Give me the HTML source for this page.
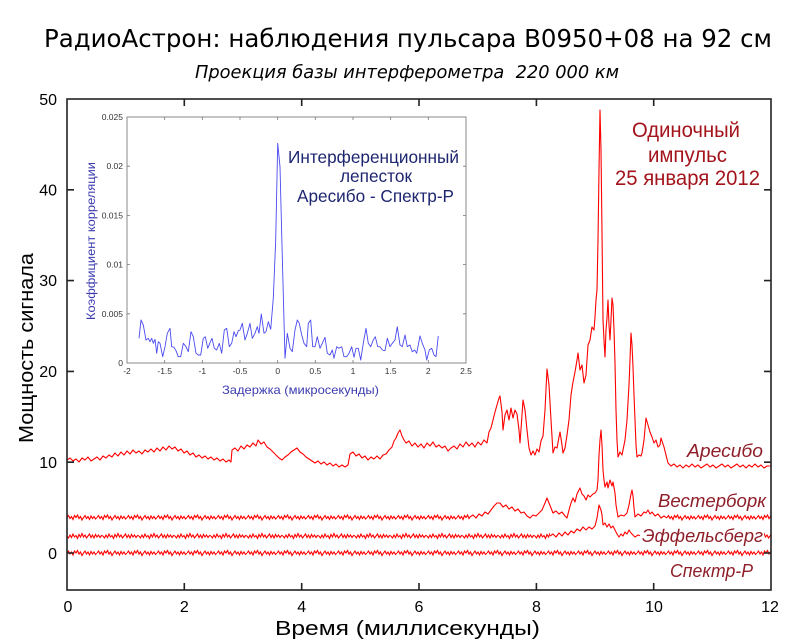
<!DOCTYPE html>
<html><head><meta charset="utf-8"><style>
html,body{margin:0;padding:0;background:#fff;}
svg{display:block;}
</style></head><body>
<svg width="800" height="640" viewBox="0 0 800 640" xmlns="http://www.w3.org/2000/svg">
<defs>
<pattern id="nz" patternUnits="userSpaceOnUse" width="30" height="10">
<polyline points="0,5 1.5,3 3,6 4.5,4 6,7 7.5,3 9,5 10.5,2.5 12,6 13.5,4 15,7.5 16.5,5 18,3 19.5,6 21,4 22.5,7 24,3.5 25.5,6 27,4 28.5,6.5 30,5" fill="none" stroke="#ff0000" stroke-width="1.1"/>
</pattern>
<pattern id="nz2" patternUnits="userSpaceOnUse" width="36" height="10">
<polyline points="0,5 1.5,7 3,4 4.5,6.5 6,3 7.5,6 9,4.5 10.5,7.5 12,3.5 13.5,6 15,2.5 16.5,6 18,4 19.5,7 21,5 22.5,3 24,6.5 25.5,4 27,7 28.5,3.5 30,6 31.5,4 33,6.5 34.5,4.5 36,5" fill="none" stroke="#ff0000" stroke-width="1.1"/>
</pattern>
</defs>
<rect x="0" y="0" width="800" height="640" fill="#fff"/>

<!-- Titles -->
<text x="44" y="47" font-family="DejaVu Sans, Liberation Sans, sans-serif" font-size="25" fill="#000" textLength="728" lengthAdjust="spacingAndGlyphs">РадиоАстрон: наблюдения пульсара B0950+08 на 92 см</text>
<text x="195" y="78" font-family="DejaVu Sans, Liberation Sans, sans-serif" font-style="italic" font-size="18" fill="#000" textLength="424" lengthAdjust="spacingAndGlyphs" xml:space="preserve">Проекция базы интерферометра  220 000 км</text>

<!-- Traces -->
<g fill="none" stroke="#ff0000" stroke-width="1.1" stroke-linejoin="round">
<!-- Аресибо -->
<path d="M67,460 L70,458 L73,461 L76,459 L79,462 L82,458 L85,460 L88,457 L91,461 L94,459 L97,457 L100,460 L103,456 L106,458 L109,455 L112,457 L115,453 L118,456 L121,452 L124,455 L127,451 L130,454 L133,450 L136,453 L139,451 L142,454 L145,450 L148,452 L151,449 L154,452 L157,448 L160,451 L163,447 L166,450 L169,446 L172,449 L175,447 L178,451 L181,449 L184,453 L187,451 L190,455 L193,453 L196,457 L199,455 L202,458 L205,456 L208,459 L211,457 L214,460 L217,458 L220,461 L223,459 L226,462 L229,460 L231,462 L232,450 L235,448 L238,451 L241,446 L244,449 L247,445 L250,447 L253,443 L256,446 L258,440 L261,444 L264,442 L267,447 L270,449 L273,452 L276,455 L279,458 L282,460 L285,457 L288,455 L291,452 L294,450 L297,448 L300,452 L303,454 L306,457 L309,459 L312,461 L315,463 L318,461 L321,464 L324,462 L327,465 L330,463 L333,466 L336,464 L339,467 L342,465 L345,467 L348,465 L350,454 L353,452 L356,456 L359,454 L362,458 L365,456 L368,460 L371,457 L374,459 L377,456 L380,459 L383,455 L386,454 L389,450 L392,447 L394,441 L396,438 L398,433 L400,430 L402,436 L404,440 L406,443 L409,441 L412,446 L415,443 L418,447 L421,444 L424,448 L427,443 L430,446 L433,442 L436,447 L439,445 L442,448 L445,446 L448,451 L451,448 L454,446 L457,449 L460,444 L463,447 L466,442 L469,446 L472,443 L475,447 L478,442 L481,445 L484,440 L487,443 L489,432 L491,428 L493,420 L495,412 L497,405 L499,398 L500,396 L502,412 L503,430 L505,415 L507,410 L509,420 L511,408 L513,418 L515,410 L517,414 L519,430 L520,443 L522,415 L523,400 L525,410 L527,430 L529,448 L531,455 L533,451 L535,455 L537,449 L539,452 L541,441 L543,436 L545,410 L547,369 L549,385 L551,420 L553,453 L555,447 L557,448 L559,437 L560,432 L562,445 L563,453 L565,448 L567,435 L569,420 L571,395 L573,382 L575,372 L577,360 L578,353 L580,370 L582,365 L584,383 L586,375 L588,345 L590,340 L592,327 L594,330 L595,317 L596,300 L597,290 L598,240 L599,170 L600,110 L601,150 L602,233 L603,320 L604,340 L605,357 L606,330 L607,318 L608,300 L609,325 L610,340 L611,320 L612,298 L613,305 L614,330 L615,363 L616,410 L617,440 L618,457 L620,452 L622,455 L623,450 L625,440 L627,420 L629,385 L630,360 L631,333 L632,345 L633,367 L634,395 L635,420 L636,445 L637,457 L639,455 L641,456 L642,453 L644,440 L646,418 L648,425 L650,432 L652,437 L654,443 L656,440 L658,447 L660,445 L661,438 L663,444 L664,447 L666,455 L668,463 L671,466 L674,464 L677,467 L680,465 L683,468 L686,465 L689,467 L692,464 L695,467 L698,465 L701,468 L704,466 L707,464 L710,467 L713,465 L716,468 L719,466 L722,464 L725,467 L728,465 L731,468 L734,466 L737,464 L740,467 L743,465 L746,468 L749,465 L752,467 L755,464 L758,467 L761,465 L764,468 L767,466 L771,466"/>
<!-- Вестерборк features -->
<path d="M470,517 L473,515 L476,518 L479,514 L482,516 L485,512 L488,514 L491,510 L494,506 L497,503 L500,503 L503,507 L506,505 L509,509 L512,507 L515,511 L518,509 L521,513 L524,512 L527,516 L530,518 L533,515 L536,516 L539,513 L542,510 L545,503 L547,498 L549,503 L551,508 L553,513 L556,511 L559,514 L562,512 L565,516 L567,518 L569,510 L571,503 L573,498 L575,502 L577,494 L579,490 L580,488 L582,494 L584,496 L586,500 L588,495 L590,497 L593,494 L595,493 L597,490 L598,480 L599,455 L600,440 L601,430 L602,445 L603,470 L604,480 L605,487 L607,482 L608,488 L610,480 L612,486 L613,482 L615,493 L616,505 L618,517 L621,515 L624,516 L627,513 L629,505 L631,494 L632,490 L633,496 L634,508 L635,517 L638,514 L641,516 L644,512 L646,513 L648,510 L650,514 L652,512 L655,516 L658,514 L661,518 L664,516 L667,518"/>
<!-- Эффельсберг features -->
<path d="M550,536 L553,534 L556,537 L559,533 L562,536 L565,532 L568,535 L571,531 L574,533 L577,529 L580,531 L583,527 L586,530 L589,527 L592,529 L595,526 L597,518 L599,505 L601,510 L602,515 L603,525 L605,523 L607,527 L609,524 L611,528 L613,526 L615,530 L617,534 L619,537 L621,534 L623,536 L625,532 L627,534 L629,530 L631,533 L633,535 L635,537 L638,535 L641,536"/>
</g>
<!-- noisy flat segments -->
<g transform="translate(67,512.5)"><rect x="0" y="0" width="403" height="10" fill="url(#nz)"/></g>
<g transform="translate(667,512.5)"><rect x="0" y="0" width="104" height="10" fill="url(#nz)"/></g>
<g transform="translate(67,531)"><rect x="0" y="0" width="483" height="10" fill="url(#nz2)"/></g>
<g transform="translate(641,531)"><rect x="0" y="0" width="130" height="10" fill="url(#nz2)"/></g>
<g transform="translate(67,548)"><rect x="0" y="0" width="704" height="10" fill="url(#nz)"/></g>

<!-- Trace labels -->
<g font-family="Liberation Sans, Arial, sans-serif" font-style="italic" font-size="18.5" fill="#8e1e28">
<text x="687" y="457" textLength="76" lengthAdjust="spacingAndGlyphs">Аресибо</text>
<text x="658" y="507" textLength="108" lengthAdjust="spacingAndGlyphs">Вестерборк</text>
<rect x="640" y="525" width="124" height="21" fill="#fff"/>
<text x="642" y="542" textLength="121" lengthAdjust="spacingAndGlyphs">Эффельсберг</text>
<text x="670" y="577" textLength="83" lengthAdjust="spacingAndGlyphs">Спектр-Р</text>
</g>

<!-- Annotation -->
<g font-family="Liberation Sans, Arial, sans-serif" font-size="21" fill="#a3141c" text-anchor="middle">
<text x="686" y="137" textLength="108" lengthAdjust="spacingAndGlyphs">Одиночный</text>
<text x="687.5" y="162" textLength="79" lengthAdjust="spacingAndGlyphs">импульс</text>
<text x="687.5" y="185" textLength="145" lengthAdjust="spacingAndGlyphs">25 января 2012</text>
</g>

<!-- Frame and ticks -->
<g stroke="#222" stroke-width="1.6" fill="none">
<rect x="67" y="99" width="704" height="491"/>
<path d="M67,553H74 M67,462.2H74 M67,371.4H74 M67,280.6H74 M67,189.8H74
M771,553H764 M771,462.2H764 M771,371.4H764 M771,280.6H764 M771,189.8H764
M184.3,590V583 M301.7,590V583 M419,590V583 M536.4,590V583 M653.7,590V583
M184.3,99V106 M301.7,99V106 M419,99V106 M536.4,99V106 M653.7,99V106"/>
</g>
<g font-family="Liberation Sans, Arial, sans-serif" font-size="16" fill="#000">
<g text-anchor="end">
<text x="57" y="559">0</text>
<text x="57" y="468">10</text>
<text x="57" y="377">20</text>
<text x="57" y="286">30</text>
<text x="57" y="195.5">40</text>
<text x="57" y="105">50</text>
</g>
<g text-anchor="middle">
<text x="68" y="612">0</text>
<text x="184.3" y="612">2</text>
<text x="301.7" y="612">4</text>
<text x="419" y="612">6</text>
<text x="536.4" y="612">8</text>
<text x="654" y="612">10</text>
<text x="770" y="612">12</text>
</g>
</g>
<text x="275" y="635" font-family="Liberation Sans, Arial, sans-serif" font-size="20.5" fill="#000" textLength="265" lengthAdjust="spacingAndGlyphs">Время (миллисекунды)</text>
<text transform="translate(33,348) rotate(-90)" text-anchor="middle" font-family="Liberation Sans, Arial, sans-serif" font-size="20.5" fill="#000" textLength="190" lengthAdjust="spacingAndGlyphs">Мощность сигнала</text>

<!-- Inset -->
<rect x="127" y="117" width="339" height="246" fill="#fff" stroke="#8a8a8a" stroke-width="1"/>
<g stroke="#777" stroke-width="0.8">
<path d="M164.7,117v3 M202.3,117v3 M240,117v3 M277.7,117v3 M315.3,117v3 M353,117v3 M390.7,117v3 M428.3,117v3
M164.7,363v-3 M202.3,363v-3 M240,363v-3 M277.7,363v-3 M315.3,363v-3 M353,363v-3 M390.7,363v-3 M428.3,363v-3
M466,166.2h-3 M466,215.4h-3 M466,264.6h-3 M466,313.8h-3
M127,166.2h3 M127,215.4h3 M127,264.6h3 M127,313.8h3"/>
</g>
<g font-family="Liberation Sans, Arial, sans-serif" font-size="8.5" fill="#333">
<g text-anchor="end">
<text x="123" y="120">0.025</text>
<text x="123" y="169">0.02</text>
<text x="123" y="218.5">0.015</text>
<text x="123" y="267.5">0.01</text>
<text x="123" y="317">0.005</text>
<text x="123" y="366">0</text>
</g>
<g text-anchor="middle">
<text x="127" y="374">-2</text>
<text x="164.7" y="374">-1.5</text>
<text x="202.3" y="374">-1</text>
<text x="240" y="374">-0.5</text>
<text x="277.7" y="374">0</text>
<text x="315.3" y="374">0.5</text>
<text x="353" y="374">1</text>
<text x="390.7" y="374">1.5</text>
<text x="428.3" y="374">2</text>
<text x="466" y="374">2.5</text>
</g>
</g>
<text x="222" y="394" font-family="Liberation Sans, Arial, sans-serif" font-size="12" fill="#3c3cb0" textLength="157" lengthAdjust="spacingAndGlyphs">Задержка (микросекунды)</text>
<text transform="translate(95,241) rotate(-90)" text-anchor="middle" font-family="Liberation Sans, Arial, sans-serif" font-size="11.5" fill="#3c3cb0" textLength="158" lengthAdjust="spacingAndGlyphs">Коэффициент корреляции</text>
<polyline fill="none" stroke="#4a4af0" stroke-width="0.9" stroke-linejoin="round" points="139,338.3 141,320 143.3,325 146,340 148.3,338.3 150,341.7 151.7,338.3 153.3,343.3 155,339.3 156.7,353.3 158.3,341.7 160,343.3 162.7,356.7 165,346.7 167.3,333.3 170,328.3 171.7,346.7 174,347.3 176,350.7 178.3,356.7 180.7,356.7 183.3,343.3 186,346.7 188.3,351.7 191,331.7 193.3,336.7 196,353.3 198.3,355 200.7,355 203.3,338.3 205.3,336.7 207.7,348.3 210,342.7 212,338.3 214.3,348.3 216.7,350 219.3,343.3 221.7,353.3 224.3,330 226.7,328.3 229.3,346.7 231.7,343.3 234,331.7 236,336.7 238.3,330.7 240,330 242.3,323.3 245,340 247.3,333.3 250,323.3 252.3,338.3 255,333.3 257.3,326.7 259,333.3 261.3,314 264,333.3 266,331.7 268.3,321.7 270.7,329.3 273.3,298.3 275.7,240 277.7,143.3 280,166.7 282.3,256.7 285,358.3 287.3,333.3 290,348.3 292.3,351.7 295,330 297.3,320 299.3,323.3 301.7,335 304,343.3 306.7,346.7 308.3,323.3 310.7,320 312.7,346.7 315,346.7 317.3,336.7 320,348.3 322.3,343.3 325,337.3 327.3,353.3 330,355 332.3,350 334,358.3 336.7,346.7 339,348.3 341.7,346.7 344,356.7 346.7,356.7 349,353.3 351.7,346.7 354,357.3 356,348.3 358.3,348.3 360.7,360 363.3,343.3 366,328.3 368.3,343.3 370.7,346.7 373.3,340 375.3,336.7 377.7,346.7 380,346.7 382.3,350 385,350.7 387.3,338.3 390,346.7 392.3,343.3 395,340 397.3,326.7 400,345 402.3,346.7 405,335 407.3,346.7 410,345 412.3,351.7 414.7,350 416.7,353.3 420,336 422.3,343.3 425,350 426.7,360 429.3,350 431.7,348.3 434,355 436,356.7 438.3,336"/>
<g font-family="Liberation Sans, Arial, sans-serif" font-size="17.5" fill="#1e2670" text-anchor="middle">
<text x="373.5" y="163" textLength="171" lengthAdjust="spacingAndGlyphs">Интерференционный</text>
<text x="376" y="182" textLength="72" lengthAdjust="spacingAndGlyphs">лепесток</text>
<text x="375.5" y="202" textLength="157" lengthAdjust="spacingAndGlyphs">Аресибо - Спектр-Р</text>
</g>
</svg>
</body></html>
